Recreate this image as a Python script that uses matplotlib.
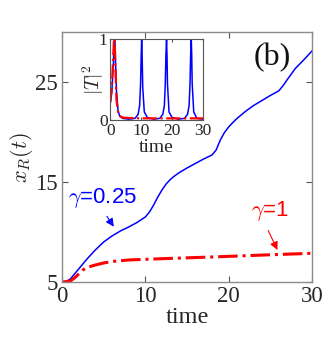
import matplotlib
matplotlib.use("Agg")
import matplotlib.pyplot as plt

plt.rcParams['mathtext.fontset'] = 'cm'
plt.rcParams['font.family'] = ['Liberation Serif', 'DejaVu Serif']

# main panel: x_R(t)
t_blue = [0, 0.5, 1, 1.5, 2, 3, 4, 5, 6, 7, 8, 9, 10, 10.5, 11, 11.5, 12, 12.5, 13, 13.5,
          14, 15, 16, 17, 18, 18.5, 19, 19.5, 20, 20.5, 21, 22, 23, 24, 25, 26, 26.5, 27,
          28, 29, 30]
x_blue = [5, 5.05, 5.3, 5.8, 6.3, 7.3, 8.2, 9.0, 9.6, 10.1, 10.5, 10.95, 11.5, 12.0, 12.7,
          13.5, 14.2, 14.8, 15.25, 15.6, 15.9, 16.4, 16.85, 17.3, 17.7, 18.2, 19.2, 19.95,
          20.5, 20.95, 21.35, 22.05, 22.65, 23.15, 23.65, 24.1, 24.6, 25.2, 26.35, 27.2,
          28.1]
t_red = [0, 0.5, 1, 1.5, 2, 2.5, 3, 4, 5, 6, 8, 12, 18, 25, 30]
x_red = [5, 5.03, 5.1, 5.4, 5.8, 6.2, 6.45, 6.7, 6.9, 7.05, 7.2, 7.33, 7.5, 7.72, 7.87]

# inset: |T|^2
ti_blue = [0, 0.5, 1, 1.3, 1.5, 1.7, 2, 2.5, 3, 4, 6, 8, 9, 9.5, 9.8, 10.0, 10.15, 10.3,
           10.5, 11, 12, 14, 16, 17, 17.5, 17.8, 18.0, 18.2, 18.35, 18.5, 19, 20, 22, 24,
           25, 25.5, 25.8, 26.0, 26.2, 26.35, 26.5, 27, 28, 30]
Ti_blue = [0.21, 0.35, 0.7, 1.0, 1.0, 0.7, 0.35, 0.12, 0.05, 0.02, 0.01, 0.02, 0.07, 0.18,
           0.45, 0.8, 1.0, 0.8, 0.4, 0.1, 0.03, 0.01, 0.02, 0.07, 0.18, 0.45, 0.8, 1.0, 0.8,
           0.45, 0.1, 0.03, 0.01, 0.02, 0.07, 0.18, 0.45, 0.8, 1.0, 0.8, 0.45, 0.1, 0.02, 0.01]
ti_red = [0, 0.5, 0.9, 1.2, 1.4, 1.7, 2, 2.5, 3, 4, 6, 10, 20, 30]
Ti_red = [0.22, 0.4, 0.75, 1.0, 1.0, 0.6, 0.25, 0.1, 0.05, 0.03, 0.025, 0.02, 0.02, 0.02]

fig = plt.figure(figsize=(3.27, 3.48), dpi=100)
ax = fig.add_axes([0.1896, 0.1897, 0.7645, 0.7184])
ax.plot(t_blue, x_blue, color='#0000ff', lw=1.1)
ax.plot(t_red, x_red, color='#ff0000', lw=2.2, ls='-.')
ax.set_xlim(0, 30)
ax.set_ylim(5, 30)
ax.set_xticks([0, 10, 20, 30])
ax.set_yticks([5, 15, 25])
ax.tick_params(direction='in', top=True, right=True, labelsize=16.5, length=4,
               color='#555555', labelcolor='#262626', pad=3)
for s in ax.spines.values():
    s.set_color('#8c8c8c')
    s.set_linewidth(1.0)
ax.set_xlabel('time', fontsize=17.5, color='#262626', labelpad=0)
ax.set_ylabel(r'$x_R(t)$', fontsize=16, color='#262626', labelpad=0)

ax.text(25.2, 27.4, '(b)', fontsize=23, ha='center', va='center', color='#111111')
ax.text(4.9, 13.4, r'$\gamma$=0.25', fontsize=16, color='#0000ff', ha='center', va='center',
        family=['Liberation Sans', 'DejaVu Sans'])
ax.text(25.0, 12.1, r'$\gamma$=1', fontsize=16, color='#ff0000', ha='center', va='center',
        family=['Liberation Sans', 'DejaVu Sans'])
ax.annotate('', xy=(6.4, 10.3), xytext=(5.2, 11.8),
            arrowprops=dict(arrowstyle='-|>', color='#0000ff', lw=0.8, mutation_scale=12))
ax.annotate('', xy=(26.0, 7.95), xytext=(24.6, 10.4),
            arrowprops=dict(arrowstyle='-|>', color='#ff0000', lw=0.8, mutation_scale=12))

ins = fig.add_axes([0.3373, 0.6552, 0.2835, 0.2328])
ins.plot(ti_blue, Ti_blue, color='#0000ff', lw=1.1)
ins.plot(ti_red, Ti_red, color='#ff0000', lw=1.6, ls='-.')
ins.set_xlim(0, 30)
ins.set_ylim(0, 1)
ins.set_xticks([0, 10, 20, 30])
ins.set_yticks([0, 1])
ins.tick_params(direction='in', top=True, right=True, labelsize=12.5, length=2,
                color='#555555', labelcolor='#262626', pad=2)
for s in ins.spines.values():
    s.set_color('#555555')
    s.set_linewidth(0.8)
ins.set_xlabel('time', fontsize=14, color='#262626', labelpad=0)
ins.set_ylabel(r'$|T|^2$', fontsize=14, color='#262626', labelpad=-5)

fig.savefig('out.png', dpi=100)
